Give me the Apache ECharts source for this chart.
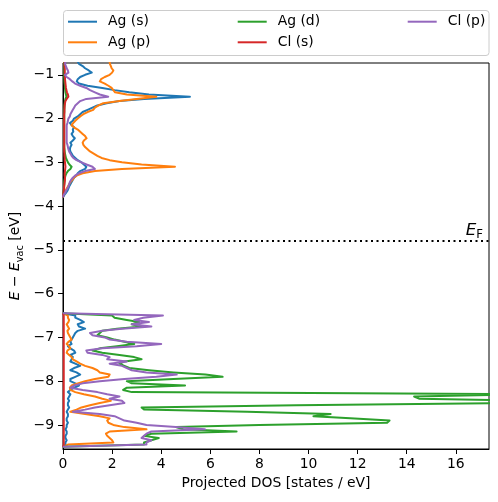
<!DOCTYPE html>
<html><head><meta charset="utf-8">
<script src="https://cdn.jsdelivr.net/npm/echarts@6/dist/echarts.min.js"></script>
<style>html,body{margin:0;padding:0;background:#fff}#c{width:498px;height:502px}</style>
</head><body><div id="c"></div>
<script>
// Energies (eV) of the sample points, upper (Cl-p/Ag valence) band and lower band
const upperE = [
-0.70,-0.75,-0.80,-0.85,-0.90,-0.95,-1.00,-1.05,-1.10,-1.15,
-1.20,-1.25,-1.30,-1.35,-1.40,-1.45,-1.50,-1.55,-1.60,-1.65,
-1.70,-1.75,-1.80,-1.85,-1.90,-1.95,-2.00,-2.05,-2.10,-2.15,
-2.20,-2.25,-2.30,-2.35,-2.40,-2.45,-2.50,-2.55,-2.60,-2.65,
-2.70,-2.75,-2.80,-2.85,-2.90,-2.95,-3.00,-3.05,-3.10,-3.15,
-3.20,-3.25,-3.30,-3.35,-3.40,-3.45,-3.50,-3.55,-3.60,-3.65,
-3.70,-3.75,-3.80];
const lowerE = [
-6.45,-6.50,-6.55,-6.60,-6.65,-6.70,-6.75,-6.80,-6.85,-6.90,
-6.95,-7.00,-7.05,-7.10,-7.15,-7.20,-7.25,-7.30,-7.35,-7.40,
-7.45,-7.50,-7.55,-7.60,-7.65,-7.70,-7.75,-7.80,-7.85,-7.90,
-7.95,-8.00,-8.05,-8.10,-8.15,-8.20,-8.25,-8.30,-8.35,-8.40,
-8.45,-8.50,-8.55,-8.60,-8.65,-8.70,-8.75,-8.80,-8.85,-8.90,
-8.95,-9.00,-9.05,-9.10,-9.15,-9.20,-9.25,-9.30,-9.35,-9.40,
-9.45,-9.50];

// Projected DOS [states / eV]
const agS_up = [
0.60,0.65,0.80,0.90,1.05,1.17,0.90,0.70,0.60,0.56,
0.65,1.00,1.60,2.10,2.70,3.50,5.17,3.30,2.30,1.78,
1.40,1.20,1.00,0.80,0.70,0.60,0.45,0.40,0.28,0.35,
0.45,0.40,0.42,0.35,0.40,0.48,0.40,0.30,0.35,0.30,
0.28,0.30,0.35,0.40,0.50,0.60,0.75,0.85,0.95,0.90,
0.70,0.60,0.55,0.45,0.40,0.35,0.30,0.25,0.22,0.18,
0.12,0.05,0.00];
const agP_up = [
1.90,1.91,1.95,1.98,2.05,2.00,1.90,1.70,1.55,1.50,
1.70,1.85,1.98,2.05,2.12,2.60,3.80,3.00,2.30,1.64,
1.45,1.30,1.23,1.00,0.83,0.70,0.60,0.50,0.42,0.35,
0.45,0.60,0.70,0.80,0.90,0.96,0.85,0.80,0.83,0.90,
1.00,1.10,1.25,1.40,1.57,1.90,2.40,3.20,4.56,2.40,
1.30,0.80,0.55,0.45,0.38,0.30,0.25,0.20,0.15,0.10,
0.05,0.00,0.00];
const agD_up = [
0.05,0.05,0.05,0.05,0.05,0.05,0.05,0.05,0.06,0.06,
0.07,0.08,0.08,0.09,0.10,0.12,0.14,0.10,0.08,0.07,
0.06,0.06,0.05,0.05,0.05,0.05,0.05,0.05,0.05,0.05,
0.05,0.05,0.05,0.05,0.05,0.05,0.05,0.05,0.05,0.05,
0.06,0.07,0.08,0.10,0.12,0.16,0.20,0.26,0.35,0.30,
0.20,0.14,0.10,0.08,0.06,0.05,0.05,0.04,0.04,0.03,
0.02,0.01,0.00];
const clS_up = [
0.06,0.06,0.06,0.07,0.07,0.07,0.07,0.08,0.08,0.09,
0.10,0.11,0.12,0.14,0.16,0.20,0.22,0.15,0.10,0.08,
0.07,0.06,0.06,0.06,0.05,0.05,0.05,0.05,0.05,0.05,
0.05,0.05,0.05,0.05,0.05,0.05,0.05,0.05,0.05,0.05,
0.05,0.05,0.06,0.06,0.07,0.07,0.08,0.09,0.10,0.09,
0.08,0.07,0.07,0.08,0.08,0.07,0.06,0.05,0.04,0.03,
0.02,0.01,0.00];
const clP_up = [
0.10,0.08,0.12,0.15,0.20,0.22,0.08,0.15,0.28,0.38,
0.49,0.70,0.95,1.10,1.30,1.50,1.84,0.95,0.70,0.60,
0.50,0.45,0.40,0.35,0.30,0.28,0.22,0.20,0.18,0.15,
0.15,0.15,0.15,0.15,0.15,0.15,0.15,0.15,0.18,0.20,
0.22,0.25,0.30,0.35,0.42,0.55,0.75,0.96,1.20,1.30,
0.90,0.65,0.50,0.40,0.33,0.28,0.25,0.22,0.18,0.12,
0.08,0.02,0.00];

const agS_lo = [
0.00,0.50,0.50,0.70,0.85,0.60,0.65,0.90,0.60,0.50,
0.45,0.40,0.35,0.30,0.35,0.20,0.30,0.45,0.50,0.30,
0.40,0.35,0.30,0.50,0.70,0.45,0.30,0.55,0.70,0.50,
0.30,0.30,0.50,0.65,0.45,0.30,0.20,0.30,0.25,0.20,
0.25,0.20,0.20,0.25,0.20,0.15,0.20,0.20,0.15,0.15,
0.20,0.15,0.15,0.10,0.15,0.15,0.10,0.10,0.15,0.10,
0.10,0.00];
const agP_lo = [
0.00,0.20,0.20,0.25,0.22,0.15,0.20,0.25,0.18,0.20,
0.25,0.30,0.35,0.22,0.15,0.25,0.30,0.18,0.15,0.25,
0.35,0.40,0.55,0.70,0.90,1.20,1.40,1.50,1.90,1.85,
1.30,0.90,0.60,0.35,0.28,0.30,0.50,0.85,1.30,1.60,
1.95,1.50,1.10,0.75,0.55,0.30,0.90,1.50,1.90,1.80,
1.85,2.05,2.50,3.40,1.90,1.75,1.80,1.90,2.00,2.05,
0.20,0.00];
const agD_lo = [
0.00,2.00,2.10,2.60,3.10,2.80,3.20,2.20,1.60,1.50,
1.40,1.80,2.10,2.50,2.90,2.20,1.50,1.20,1.60,2.30,
2.90,3.20,2.50,2.30,2.50,2.70,3.50,4.50,5.80,6.50,
4.50,2.60,2.80,4.97,2.60,2.45,2.80,19.0,14.3,14.5,
19.0,18.0,9.50,3.20,3.30,7.50,10.9,10.2,11.7,13.3,
13.2,8.00,4.60,4.90,7.07,3.60,3.30,3.90,3.60,3.30,
3.30,0.00];
const clS_lo = [
0.00,0.03,0.03,0.03,0.03,0.03,0.03,0.03,0.03,0.03,
0.03,0.03,0.03,0.03,0.03,0.03,0.03,0.03,0.03,0.03,
0.03,0.03,0.03,0.03,0.03,0.03,0.03,0.03,0.03,0.03,
0.03,0.03,0.03,0.03,0.03,0.03,0.03,0.03,0.03,0.03,
0.03,0.03,0.03,0.03,0.03,0.03,0.03,0.03,0.03,0.03,
0.03,0.03,0.03,0.03,0.03,0.03,0.03,0.03,0.03,0.03,
0.03,0.00];
const clP_lo = [
0.00,4.07,3.27,2.90,3.50,2.80,3.60,2.40,1.60,1.10,
1.20,1.70,1.90,2.60,4.00,3.00,1.60,0.95,1.00,1.60,
1.90,1.80,2.60,1.90,2.40,2.60,2.80,3.40,4.63,3.80,
2.50,1.50,0.80,0.45,0.30,0.80,1.40,1.80,2.30,1.90,
2.40,2.50,1.90,1.30,0.90,0.40,1.50,2.10,2.30,2.50,
3.00,3.40,4.60,5.78,3.60,3.40,3.30,3.20,3.60,3.40,
3.40,0.00];

const EF = -4.79;
const xTicks = [0,2,4,6,8,10,12,14,16];
const yTicks = [-9,-8,-7,-6,-5,-4,-3,-2,-1];
const names = ['Ag (s)','Ag (p)','Ag (d)','Cl (s)','Cl (p)'];
const colors = ['#1f77b4','#ff7f0e','#2ca02c','#d62728','#9467bd'];
const ups = [agS_up, agP_up, agD_up, clS_up, clP_up];
const los = [agS_lo, agP_lo, agD_lo, clS_lo, clP_lo];

function build(up, lo) {
  const d = [];
  for (let i = 0; i < upperE.length; i++) d.push([up[i], upperE[i]]);
  d.push(['-', '-']);
  for (let i = 0; i < lowerE.length; i++) d.push([lo[i], lowerE[i]]);
  return d;
}

const FONT = 'DejaVu Sans';
const FS = 13.9;
const fmtMinus = v => (v < 0 ? '\u2212' + Math.abs(v) : String(v));

function legendAt(left, data) {
  return {
    data: data, left: left, top: 14.7, orient: 'vertical', padding: 0,
    itemWidth: 29, itemHeight: 14, itemGap: 6.6, selectedMode: false,
    itemStyle: {opacity: 0, borderWidth: 0},
    lineStyle: {width: 2},
    textStyle: {fontFamily: FONT, fontSize: FS, color: '#000', padding: [0, 0, 0, 6]}
  };
}

const series = names.map((n, k) => ({
  name: n, type: 'line', data: build(ups[k], los[k]),
  symbol: 'none', showSymbol: false, clip: true, silent: true,
  color: colors[k],
  lineStyle: {width: 2, color: colors[k], join: 'round', cap: 'butt'}
}));
series[0].markLine = {
  silent: true, symbol: ['none', 'none'], animation: false,
  data: [{yAxis: EF}],
  lineStyle: {color: '#000', type: [2, 3.5], width: 2, cap: 'butt'},
  label: {
    show: true, position: 'insideEndTop', distance: [6, 0],
    formatter: '{e|E}{f|F}',
    rich: {
      e: {fontFamily: FONT, fontStyle: 'italic', fontSize: 16.7, color: '#000', lineHeight: 20, verticalAlign: 'middle'},
      f: {fontFamily: FONT, fontSize: 11.7, color: '#000', lineHeight: 12, verticalAlign: 'bottom'}
    }
  },
  emphasis: {disabled: true}
};

const chart = echarts.init(document.getElementById('c'), null, {renderer: 'canvas'});
chart.setOption({
  animation: false,
  textStyle: {fontFamily: FONT},
  grid: {left: 63, right: 9, top: 63, bottom: 53, show: true, borderColor: '#000', borderWidth: 1,
         backgroundColor: 'transparent', outerBoundsMode: 'none', containLabel: false},
  legend: [legendAt(67, [names[0], names[1]]), legendAt(236.7, [names[2], names[3]]), legendAt(406.7, [names[4]])],
  graphic: [{type: 'rect', silent: true, z: -10,
    shape: {x: 63.5, y: 10.5, width: 425.5, height: 45, r: 3},
    style: {fill: '#fff', stroke: '#cccccc', lineWidth: 1}}],
  xAxis: {
    type: 'value', min: 0, max: 17.35,
    axisLine: {show: true, onZero: false, lineStyle: {color: '#000', width: 1}},
    axisTick: {show: true, length: 5, lineStyle: {color: '#000', width: 1}, customValues: xTicks},
    axisLabel: {color: '#000', fontSize: FS, fontFamily: FONT, margin: 8, customValues: xTicks},
    splitLine: {show: false},
    name: 'Projected DOS [states / eV]', nameLocation: 'middle', nameGap: 27, nameMoveOverlap: false,
    nameTextStyle: {color: '#000', fontSize: FS, fontFamily: FONT}
  },
  yAxis: {
    type: 'value', min: -9.55, max: -0.73,
    axisLine: {show: true, onZero: false, lineStyle: {color: '#000', width: 1}},
    axisTick: {show: true, length: 5, lineStyle: {color: '#000', width: 1}, customValues: yTicks},
    axisLabel: {color: '#000', fontSize: FS, fontFamily: FONT, margin: 9, customValues: yTicks, formatter: fmtMinus},
    splitLine: {show: false},
    name: '{i|E}{n| \u2212 }{i|E}{s|vac}{n| [eV]}', nameLocation: 'middle', nameGap: 38, nameRotate: 90, nameMoveOverlap: false,
    nameTextStyle: {
      color: '#000', fontSize: FS, fontFamily: FONT,
      rich: {
        i: {fontFamily: FONT, fontStyle: 'italic', fontSize: FS, color: '#000', lineHeight: 20, verticalAlign: 'middle'},
        n: {fontFamily: FONT, fontSize: FS, color: '#000', lineHeight: 20, verticalAlign: 'middle'},
        s: {fontFamily: FONT, fontSize: 9.7, color: '#000', lineHeight: 11, verticalAlign: 'bottom'}
      }
    }
  },
  series: series
});
</script></body></html>
